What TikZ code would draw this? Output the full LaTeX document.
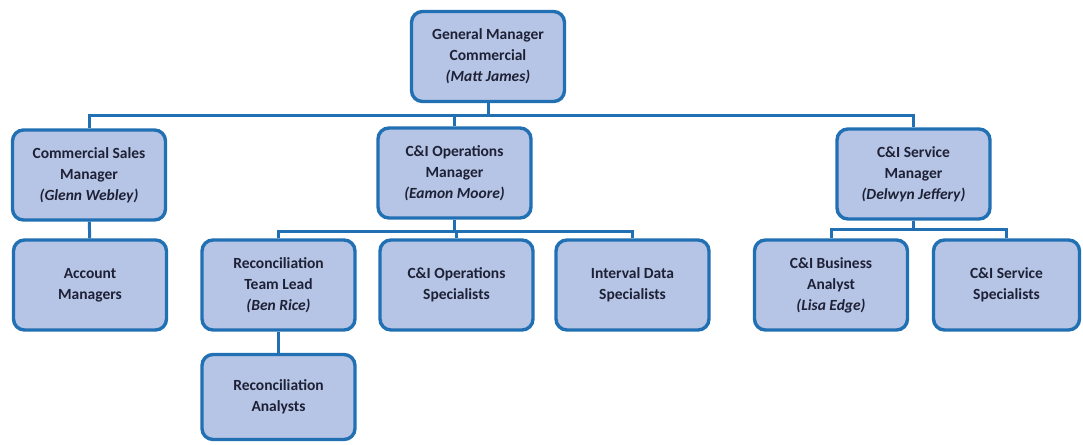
\documentclass[tikz,border=0pt]{standalone}
\usepackage{fontspec}
\setmainfont{Carlito}
\usetikzlibrary{positioning}
\definecolor{boxblue}{HTML}{B6C5E5}
\definecolor{lineblue}{HTML}{2170B3}
\definecolor{textnavy}{HTML}{1E2136}
\tikzset{
  role/.style={draw=lineblue,fill=boxblue,line width=3.4pt,rounded corners=11pt,align=center,minimum width=153pt,minimum height=90pt,inner sep=2pt,text=textnavy,font=\fontsize{15.5}{21}\selectfont\bfseries},
  link/.style={line width=3pt,draw=lineblue}
}
\newcommand{\who}[1]{\textit{(#1)}}

\begin{document}
\begin{tikzpicture}[x=1pt,y=1pt]
  \useasboundingbox (0,0) rectangle (1083,444);
  \node[role] (gm) at (488,387.5) {General Manager\\Commercial\\\who{Matt James}};
  \node[role] (csm) at (89,269) {Commercial Sales\\Manager\\\who{Glenn Webley}};
  \node[role] (cio) at (454.5,271) {C\&I Operations\\Manager\\\who{Eamon Moore}};
  \node[role] (csv) at (913.5,270) {C\&I Service\\Manager\\\who{Delwyn Jeffery}};
  \node[role] (am) at (90,159) {Account\\Managers};
  \node[role] (rtl) at (278.5,159) {Reconciliation\\Team Lead\\\who{Ben Rice}};
  \node[role] (cios) at (456.5,159) {C\&I Operations\\Specialists};
  \node[role] (ids) at (632.5,159) {Interval Data\\Specialists};
  \node[role] (cba) at (831,159) {C\&I Business\\Analyst\\\who{Lisa Edge}};
  \node[role,minimum width=146pt] (css) at (1006.5,159) {C\&I Service\\Specialists};
  \node[role,minimum height=85pt] (ra) at (278.5,47) {Reconciliation\\Analysts};
  % top level
  \draw[link] (gm.south) -- ++(0,-12) -| (csm.north);
  \draw[link] (gm.south) -- ++(0,-12) -| (cio.north);
  \draw[link] (gm.south) -- ++(0,-12) -| (csv.north);
  % operations team
  \draw[link] (cio.south) -- ++(0,-12) -| (rtl.north);
  \draw[link] (cio.south) -- ++(0,-12) -| (cios.north);
  \draw[link] (cio.south) -- ++(0,-12) -| (ids.north);
  % service team
  \draw[link] (csv.south) -- ++(0,-9) -| (cba.north);
  \draw[link] (csv.south) -- ++(0,-9) -| (css.north);
  \draw[link] (csm) -- (am);
  \draw[link] (rtl) -- (ra);
\end{tikzpicture}
\end{document}
